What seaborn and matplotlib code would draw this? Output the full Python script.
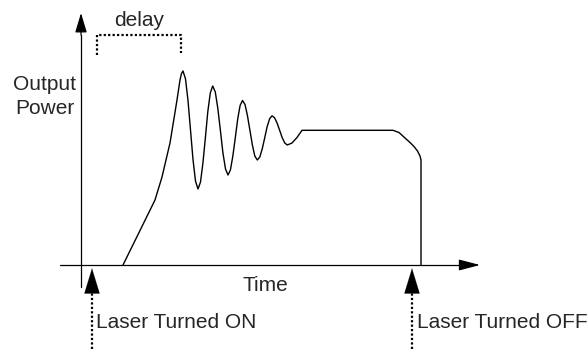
import matplotlib
matplotlib.use("Agg")
import matplotlib.pyplot as plt
import seaborn as sns
import pandas as pd

# --- laser output power vs time (schematic, arbitrary units) ---
time = [4.2, 5.9, 7.4, 8.1, 8.9, 9.6, 9.9, 10.05, 10.2,
        10.45, 10.7, 10.95, 11.2, 11.45, 11.7,
        11.95, 12.19, 12.44, 12.68, 12.93, 13.17,
        13.43, 13.68, 13.94, 14.19, 14.45, 14.7,
        14.94, 15.18, 15.43, 15.67, 15.91, 16.15,
        16.4, 16.64, 16.89, 17.14, 17.38, 17.63,
        17.88, 18.12, 18.37, 18.61, 18.86, 19.1,
        19.36, 19.61, 19.87, 20.12, 20.38, 20.63,
        21.1, 21.6, 22.1,
        31.2, 31.8, 32.4, 32.9, 33.3, 33.65, 33.9, 34.0, 34.0]
power = [0.0, 3.45, 6.5, 8.8, 12.2, 16.5, 18.5, 19.15, 19.4,
         18.61, 16.45, 13.5, 10.55, 8.39, 7.6,
         8.29, 10.18, 12.75, 15.33, 17.21, 17.9,
         17.3, 15.68, 13.45, 11.23, 9.6, 9.0,
         9.5, 10.86, 12.73, 14.59, 15.95, 16.45,
         16.05, 14.96, 13.48, 11.99, 10.9, 10.5,
         10.8, 11.6, 12.71, 13.82, 14.62, 14.92,
         14.72, 14.19, 13.46, 12.73, 12.2, 12.0,
         12.2, 12.75, 13.47,
         13.47, 13.25, 12.7, 12.25, 11.85, 11.4, 10.9, 10.5, 0.0]

t_on = 1.1      # laser turned on
t_off = 33.1    # laser turned off
delay_start = 1.6
delay_end = 10.0

df = pd.DataFrame({"time": time, "power": power})

sns.set_style("white")
plt.rcParams["font.family"] = ["Liberation Sans", "DejaVu Sans"]

fig = plt.figure(figsize=(5.87, 3.49), dpi=100)
ax = fig.add_axes([0, 0, 1, 1])
ax.set_xlim(-8.1, 50.6)
ax.set_ylim(-8.4, 26.5)
ax.axis("off")

# estimator=None so repeated x values (vertical drop) are kept as is
sns.lineplot(data=df, x="time", y="power", sort=False, estimator=None,
             color="black", linewidth=1.0, ax=ax)

# axes with arrow heads
ax.plot([0, 0], [-2.2, 23.0], color="black", lw=0.9)
ax.annotate("", xy=(0, 25.2), xytext=(0, 23.0),
            arrowprops=dict(arrowstyle="-|>,head_length=1.2,head_width=0.36",
                            color="black", lw=0.9, shrinkA=0, shrinkB=0))
ax.plot([-2.1, 38.0], [0, 0], color="black", lw=0.9)
ax.annotate("", xy=(39.9, 0), xytext=(38.0, 0),
            arrowprops=dict(arrowstyle="-|>,head_length=1.3,head_width=0.34",
                            color="black", lw=0.9, shrinkA=0, shrinkB=0))

# on / off markers
for t in (t_on, t_off):
    ax.plot([t, t], [-8.4, -2.8], color="black", lw=1.6, ls=(0, (1, 1)))
    ax.annotate("", xy=(t, -0.33), xytext=(t, -2.8),
                arrowprops=dict(arrowstyle="-|>,head_length=1.8,head_width=0.55",
                                color="black", lw=0.1, shrinkA=0, shrinkB=0))

# delay bracket
ax.plot([delay_start, delay_start, delay_end, delay_end], [21.0, 23.0, 23.0, 21.2],
        color="black", lw=1.6, ls=(0, (1, 1)))

fs = 15
ax.text((delay_start + delay_end) / 2, 24.4, "delay", ha="center", va="center", fontsize=fs)
ax.text(-3.65, 18.0, "Output", ha="center", va="center", fontsize=fs)
ax.text(-3.65, 15.7, "Power", ha="center", va="center", fontsize=fs)
ax.text(18.4, -2.05, "Time", ha="center", va="center", fontsize=fs)
ax.text(t_on + 0.45, -5.75, "Laser Turned ON", ha="left", va="center", fontsize=fs)
ax.text(t_off + 0.45, -5.75, "Laser Turned OFF", ha="left", va="center", fontsize=fs)

fig.savefig("out.png", dpi=100)
